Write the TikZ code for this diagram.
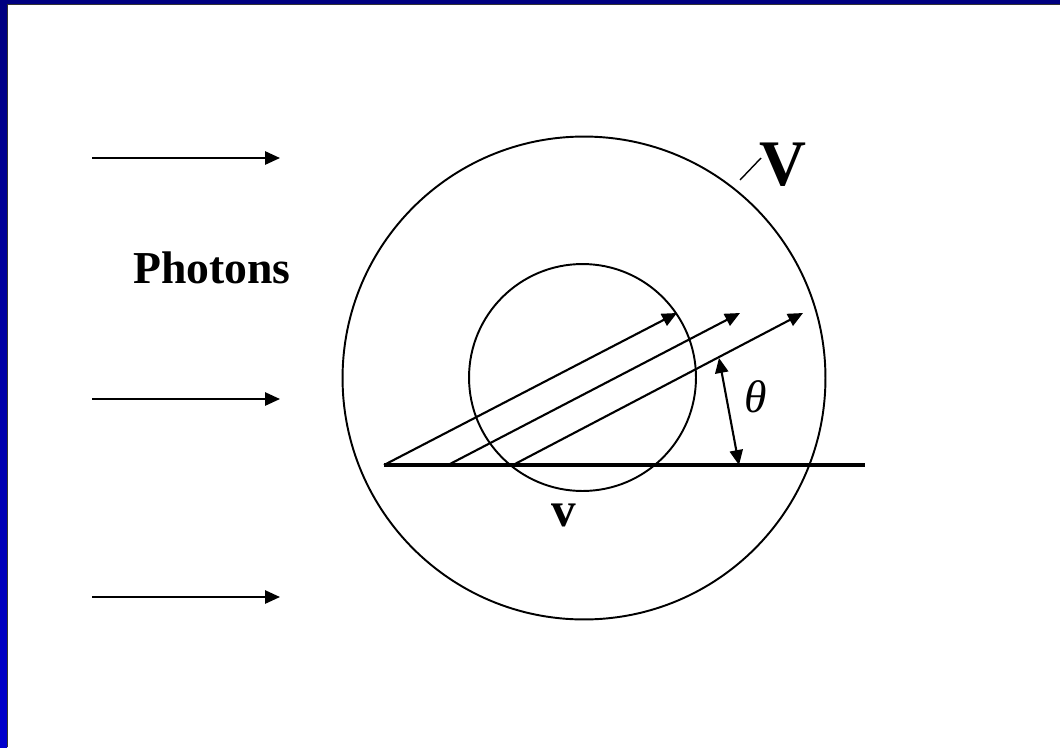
\documentclass[tikz,border=0pt]{standalone}
\usepackage{fontspec}
\setmainfont{Liberation Serif}
\usepackage{tikz}
\usetikzlibrary{positioning, calc, arrows.meta}

\definecolor{framenavy}{RGB}{0,0,128}
\definecolor{framelow}{RGB}{0,0,205}

\tikzset{
    ray/.style={line width=1.2pt, ->},
    axisline/.style={line width=2.3pt},
    ring/.style={line width=1.1pt},
    lbl/.style={inner sep=0pt, font=\bfseries},
}

\begin{document}
\begin{tikzpicture}[x=0.02cm, y=-0.02cm, >={Triangle[length=8.5pt,width=7.5pt]}]

    % --- Slide frame ---
    \useasboundingbox (0,0) rectangle (1060,747);
    \fill[white] (0,0) rectangle (1060,747);
    \shade[top color=framenavy, bottom color=framelow] (0,0) rectangle (7,747);
    \fill[framenavy] (0,0) rectangle (1060,4);
    \draw[black!80, line width=0.6pt] (7.5,747) -- (7.5,4.5) -- (1060,4.5);

    % --- Incoming photons ---
    \coordinate (pa1) at (92,158);  \coordinate (pb1) at (280,158);
    \coordinate (pa2) at (92,399);  \coordinate (pb2) at (280,399);
    \coordinate (pa3) at (92,597);  \coordinate (pb3) at (280,597);
    \foreach \i in {1,2,3}
        \draw[ray] (pa\i) -- (pb\i);
    \node[lbl, font=\bfseries\fontsize{26}{30}\selectfont] (photons) at (212,268) {Photons};

    % --- Spheres ---
    \coordinate (centre) at (584,378);
    \draw[ring] (centre) circle[radius=4.83cm]; % outer volume V
    \draw[ring] (582.5,377.5) circle[radius=2.27cm]; % inner volume v

    % --- Reference direction ---
    \coordinate (h0) at (384,465);
    \coordinate (h1) at (865,465);
    \draw[axisline] (h0) -- (h1);

    % --- Parallel beams at angle theta ---
    \coordinate (s1) at (384,465);  \coordinate (e1) at (677,313);
    \coordinate (s2) at (448,465);  \coordinate (e2) at (740,313);
    \coordinate (s3) at (513,465);  \coordinate (e3) at (803,313);
    \foreach \i in {1,2,3}
        \draw[ray] (s\i) -- (e\i);

    % angle marker between beam and line
    \coordinate (t0) at (719,358);
    \coordinate (t1) at (739,465);
    \draw[line width=1.2pt, <->] (t0) -- (t1);
    \node[inner sep=0pt, font=\itshape\fontsize{26}{30}\selectfont] (theta) at (756,397) {θ};

    % --- Labels ---
    \node[lbl, font=\bfseries\fontsize{37}{40}\selectfont] (bigV) at (783,165) {V};
    \coordinate (lead0) at (740,180);
    \draw[line width=0.8pt] (lead0) -- (761,158);
    \node[lbl, font=\bfseries\fontsize{28}{32}\selectfont] (smallv) at (564,515) {v};

\end{tikzpicture}
\end{document}
